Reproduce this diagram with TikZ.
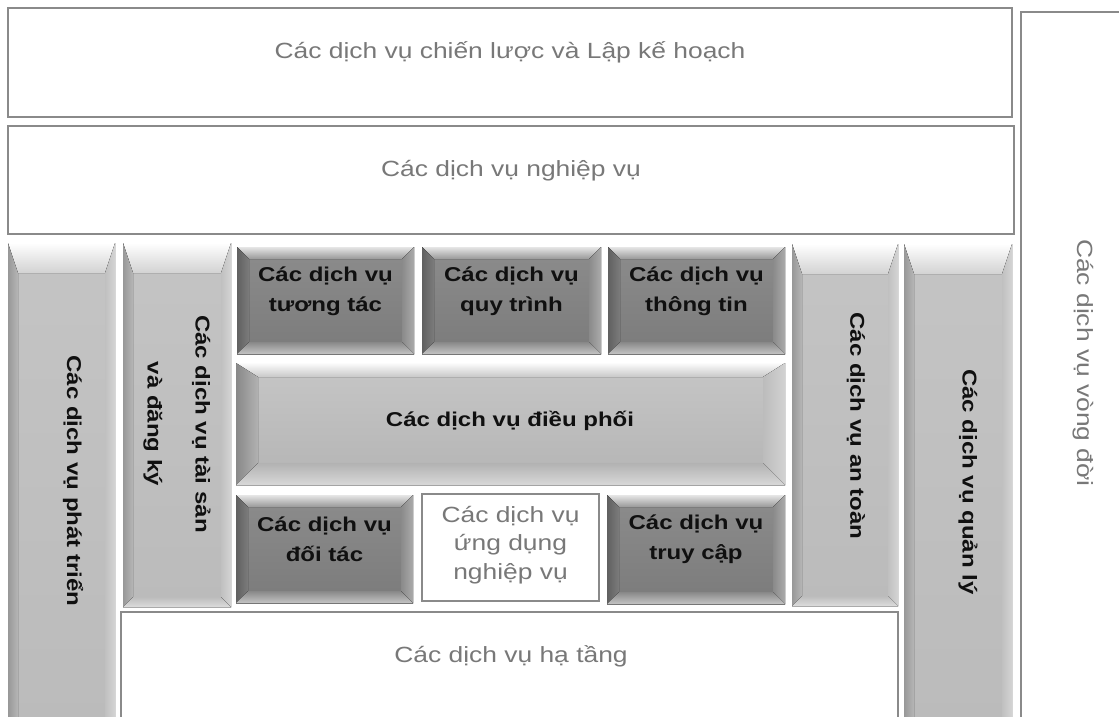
\documentclass[tikz,border=0pt]{standalone}
\usepackage{fontspec}
\setmainfont{Liberation Sans}[FakeStretch=1.2]

% frame and text colours
\definecolor{framegray}{HTML}{8A8A8A}
\definecolor{txtgray}{HTML}{787878}
\definecolor{txtdark}{HTML}{101010}
% dark bevelled boxes
\definecolor{dkF1}{HTML}{8C8C8C}\definecolor{dkF2}{HTML}{7B7B7B}
\definecolor{dkT1}{HTML}{E6E6E6}\definecolor{dkT2}{HTML}{989898}
\definecolor{dkL1}{HTML}{606060}\definecolor{dkL2}{HTML}{7C7C7C}
\definecolor{dkR1}{HTML}{8A8A8A}\definecolor{dkR2}{HTML}{ABABAB}
\definecolor{dkB1}{HTML}{888888}\definecolor{dkB2}{HTML}{C4C4C4}
% light vertical bars
\definecolor{ltF1}{HTML}{C4C4C4}\definecolor{ltF2}{HTML}{BBBBBB}
\definecolor{ltT1}{HTML}{FFFFFF}\definecolor{ltT2}{HTML}{D2D2D2}
\definecolor{ltL1}{HTML}{989898}\definecolor{ltL2}{HTML}{B6B6B6}
\definecolor{ltR1}{HTML}{C0C0C0}\definecolor{ltR2}{HTML}{D4D4D4}
\definecolor{ltB1}{HTML}{BCBCBC}\definecolor{ltB2}{HTML}{DCDCDC}
% wide middle box
\definecolor{mdF1}{HTML}{C6C6C6}\definecolor{mdF2}{HTML}{B4B4B4}
\definecolor{mdT1}{HTML}{FCFCFC}\definecolor{mdT2}{HTML}{C8C8C8}
\definecolor{mdL1}{HTML}{888888}\definecolor{mdL2}{HTML}{B2B2B2}
\definecolor{mdR1}{HTML}{BCBCBC}\definecolor{mdR2}{HTML}{D2D2D2}
\definecolor{mdB1}{HTML}{B2B2B2}\definecolor{mdB2}{HTML}{D8D8D8}

% bevelled panel: x1,y1,x2,y2, side depth, top depth, palette
\newcommand\bevelbox[7]{%
  \fill[top color=#7F1,bottom color=#7F2] (#1,#2) rectangle (#3,#4);
  \fill[top color=#7T1,bottom color=#7T2] (#1,#2) -- (#3,#2) -- ({#3-#5},{#2+#6}) -- ({#1+#5},{#2+#6}) -- cycle;
  \fill[left color=#7L1,right color=#7L2] (#1,#2) -- ({#1+#5},{#2+#6}) -- ({#1+#5},{#4-#5}) -- (#1,#4) -- cycle;
  \fill[left color=#7R1,right color=#7R2] ({#3-#5},{#2+#6}) -- (#3,#2) -- (#3,#4) -- ({#3-#5},{#4-#5}) -- cycle;
  \fill[top color=#7B1,bottom color=#7B2] ({#1+#5},{#4-#5}) -- ({#3-#5},{#4-#5}) -- (#3,#4) -- (#1,#4) -- cycle;
}

\tikzset{
  frame/.style={draw=framegray, line width=0.7pt, fill=white},
  plain/.style={text=txtgray, font=\fontsize{11}{14.25}\selectfont, align=center, inner sep=0pt},
  lbl/.style={text=txtdark, font=\bfseries\fontsize{10}{15}\selectfont, align=center, inner sep=0pt},
}

\begin{document}
\begin{tikzpicture}[x=0.5pt, y=-0.5pt]
  \fill[white] (0,0) rectangle (1119,717);
  \clip (0,0) rectangle (1119,717);

  % planning and business layers
  \draw[frame] (8,8) rectangle (1012,117);
  \node[plain] (strat) at (510,52) {Các dịch vụ chiến lược và Lập kế hoạch};
  \draw[frame] (8,126) rectangle (1014,234);
  \node[plain] (biz) at (511,171) {Các dịch vụ nghiệp vụ};

  % lifecycle column
  \draw[frame] (1021,12) rectangle (1130,730);
  \node[plain, rotate=-90] (life) at (1083,363) {Các dịch vụ vòng đời};

  % infrastructure
  \draw[frame] (121,612) rectangle (898,730);
  \node[plain] (infra) at (511,656) {Các dịch vụ hạ tầng};

  % vertical bars
  \bevelbox{8}{243}{115}{730}{10}{30}{lt}
  \bevelbox{123}{243}{231}{607}{10}{30}{lt}
  \bevelbox{792}{244}{898}{606}{10}{30}{lt}
  \bevelbox{904}{244}{1012}{730}{10}{30}{lt}
  \node[lbl, rotate=-90] (dev) at (73,481) {Các dịch vụ phát triển};
  \node[lbl, rotate=-90, font=\bfseries\fontsize{10}{24}\selectfont] (asset) at (177,424) {Các dịch vụ tài sản\\và đăng ký};
  \node[lbl, rotate=-90] (sec) at (856,426) {Các dịch vụ an toàn};
  \node[lbl, rotate=-90] (mgmt) at (968,482) {Các dịch vụ quản lý};

  % upper row
  \bevelbox{237}{247}{414}{354}{12}{12}{dk}
  \bevelbox{422}{247}{601}{354}{12}{12}{dk}
  \bevelbox{608}{247}{785}{354}{12}{12}{dk}
  \node[lbl] (inter) at (325.5,291) {Các dịch vụ\\tương tác};
  \node[lbl] (proc) at (511.5,291) {Các dịch vụ\\quy trình};
  \node[lbl] (info) at (696.5,291) {Các dịch vụ\\thông tin};

  % orchestration
  \bevelbox{236}{363}{785}{485}{22}{14}{md}
  \node[lbl] (orch) at (510,421) {Các dịch vụ điều phối};

  % lower row
  \bevelbox{236}{495}{413}{603}{12}{12}{dk}
  \draw[draw=framegray, line width=0.6pt, fill=white] (422,494) rectangle (599,601);
  \bevelbox{607}{495}{785}{604}{12}{12}{dk}
  \node[lbl] (partner) at (324.5,539) {Các dịch vụ\\đối tác};
  \node[plain] (app) at (510.5,545) {Các dịch vụ\\ứng dụng\\nghiệp vụ};
  \node[lbl] (access) at (696,539) {Các dịch vụ\\truy cập};
\end{tikzpicture}
\end{document}
